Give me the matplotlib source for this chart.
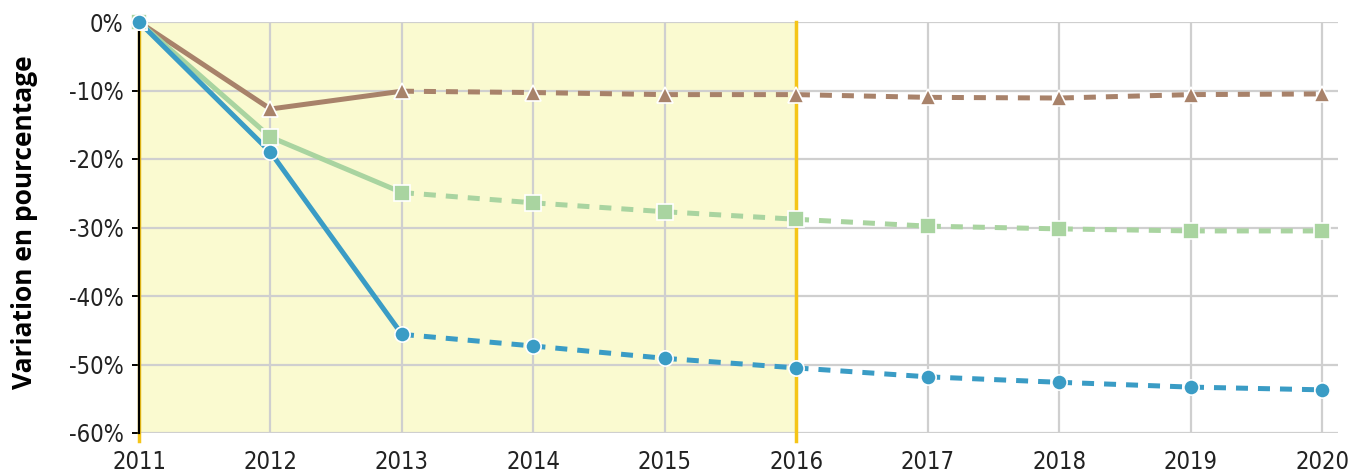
import matplotlib
matplotlib.use("Agg")
import matplotlib.pyplot as plt
from matplotlib.ticker import FuncFormatter

years = [2011, 2012, 2013, 2014, 2015, 2016, 2017, 2018, 2019, 2020]
blue = [0, -19.0, -45.6, -47.3, -49.1, -50.5, -51.8, -52.6, -53.3, -53.7]
green = [0, -16.8, -24.9, -26.4, -27.7, -28.8, -29.8, -30.2, -30.5, -30.5]
brown = [0, -12.7, -10.1, -10.3, -10.6, -10.6, -11.0, -11.1, -10.6, -10.5]
yticks = [0, -10, -20, -30, -40, -50, -60]
split_year = 2013
shade_end = 2016

c_blue = "#3a9cc5"
c_green = "#a9d4a0"
c_brown = "#a8826a"

fig = plt.figure(figsize=(13.65, 4.76), dpi=100)
ax = fig.add_axes([139/1365, 1-433/476, (1338-139)/1365, (433-22)/476])

ax.set_xlim(years[0], years[-1] + 0.12)
ax.set_ylim(yticks[-1], yticks[0])
ax.axvspan(years[0], shade_end, color="#fafad0", zorder=0)

ax.set_xticks(years)
ax.set_yticks(yticks)
ax.grid(True, color="#cfcfcf", linewidth=1.6, zorder=1)
ax.yaxis.set_major_formatter(FuncFormatter(lambda v, p: f"{int(v)}%"))

for s in ["top", "right", "bottom"]:
    ax.spines[s].set_visible(False)
ax.spines["left"].set_color("black")
ax.spines["left"].set_linewidth(1.6)
ax.spines["left"].set_zorder(5)

# orange vertical lines
for xv in [years[0], shade_end]:
    ax.plot([xv, xv], [yticks[0], yticks[-1] - 1.2], color="#f5c518", lw=2.5,
            clip_on=False, zorder=2 if xv != years[0] else 4)

ax.tick_params(axis="x", length=0, pad=12)
ax.tick_params(axis="y", length=5, width=1.4, color="black", pad=6)
for lab in ax.get_xticklabels() + ax.get_yticklabels():
    lab.set_fontfamily("DejaVu Sans")
    lab.set_fontstretch("condensed")
    lab.set_fontsize(17)
    lab.set_color("#222222")

i = years.index(split_year)
for vals, col, mk, ms in [(brown, c_brown, "^", 11), (green, c_green, "s", 11), (blue, c_blue, "o", 11)]:
    ax.plot(years[:i+1], vals[:i+1], color=col, lw=3.6, solid_capstyle="butt", zorder=3, clip_on=False)
    ax.plot(years[i:], vals[i:], color=col, lw=3.6, dashes=(2.4, 2.0), zorder=3, clip_on=False)
    ax.plot(years, vals, linestyle="none", marker=mk, markersize=ms, markerfacecolor=col,
            markeredgecolor="white", markeredgewidth=1.2, zorder=6, clip_on=False)

fig.text(25/1365, 1-222/476, "Variation en pourcentage", rotation=90, ha="center", va="center",
         fontsize=19, fontweight="bold", family="Open Sans")

fig.savefig("out.png", dpi=100)
